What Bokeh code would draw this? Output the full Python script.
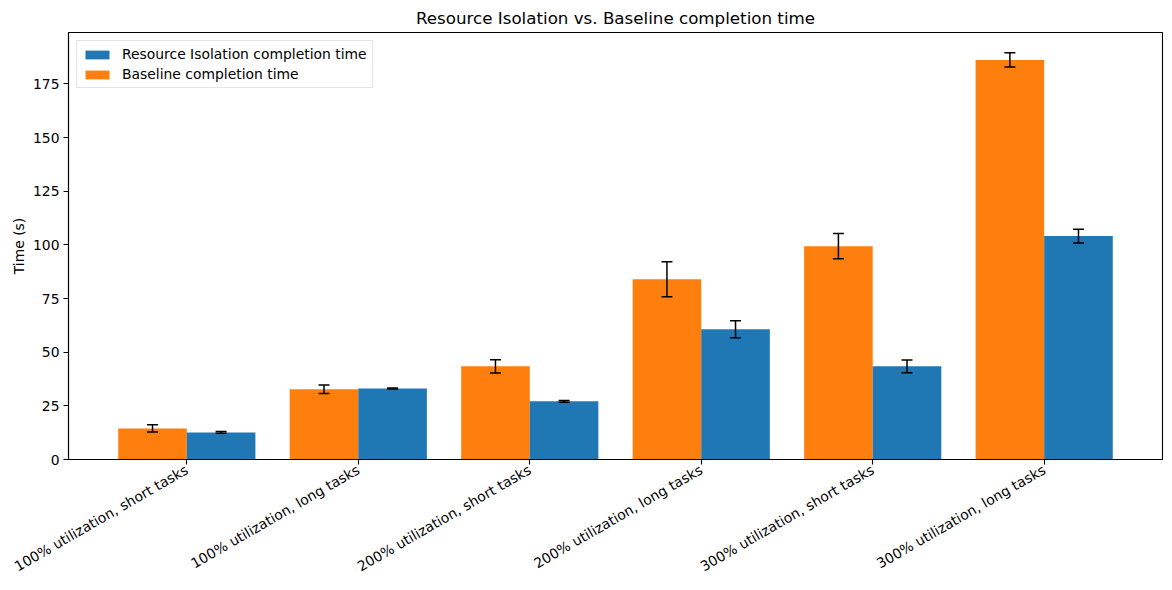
import math
from bokeh.plotting import figure
from bokeh.models import (ColumnDataSource, Range1d, FixedTicker, Whisker, TeeHead,
                          Legend, LegendItem)
from bokeh.embed import file_html
from bokeh.resources import INLINE

scenarios = [
    "100% utilization, short tasks",
    "100% utilization, long tasks",
    "200% utilization, short tasks",
    "200% utilization, long tasks",
    "300% utilization, short tasks",
    "300% utilization, long tasks",
]
baseline_mean = [14.5, 32.7, 43.4, 84.0, 99.4, 186.2]
baseline_err = [1.7, 2.0, 3.1, 8.2, 5.9, 3.3]
isolation_mean = [12.6, 33.1, 27.1, 60.7, 43.4, 104.1]
isolation_err = [0.4, 0.2, 0.4, 4.0, 3.0, 3.2]

BAR_W = 0.4
BLUE = "#1f77b4"
ORANGE = "#ff7f0e"
FONT = "DejaVu Sans"

idx = list(range(len(scenarios)))
base_src = ColumnDataSource(dict(
    x=[i - BAR_W / 2 for i in idx],
    top=baseline_mean,
    upper=[m + e for m, e in zip(baseline_mean, baseline_err)],
    lower=[m - e for m, e in zip(baseline_mean, baseline_err)],
))
iso_src = ColumnDataSource(dict(
    x=[i + BAR_W / 2 for i in idx],
    top=isolation_mean,
    upper=[m + e for m, e in zip(isolation_mean, isolation_err)],
    lower=[m - e for m, e in zip(isolation_mean, isolation_err)],
))

ymax = max(u for u in base_src.data["upper"] + iso_src.data["upper"]) * 1.05
span = (len(idx) - 1) + 2 * BAR_W
p = figure(
    width=1172, height=590,
    x_range=Range1d(-BAR_W - 0.05 * span, len(idx) - 1 + BAR_W + 0.05 * span),
    y_range=Range1d(0, ymax),
    output_backend="svg", toolbar_location=None,
    title="Resource Isolation vs. Baseline completion time",
    min_border_left=68, min_border_right=10, min_border_top=32, min_border_bottom=131,
)

r_base = p.vbar(x="x", top="top", width=BAR_W, source=base_src,
                fill_color=ORANGE, line_color=None)
r_iso = p.vbar(x="x", top="top", width=BAR_W, source=iso_src,
               fill_color=BLUE, line_color=None)

# error bars drawn on top of the bars
for src in (base_src, iso_src):
    w = Whisker(source=src, base="x", upper="upper", lower="lower", dimension="height",
                line_color="black", line_width=1.5, level="overlay",
                upper_head=TeeHead(size=11, line_color="black", line_width=1.5),
                lower_head=TeeHead(size=11, line_color="black", line_width=1.5))
    p.add_layout(w)

# title
p.title.text_font = FONT
p.title.text_font_size = "16.7px"
p.title.text_font_style = "normal"
p.title.align = "center"
p.title.text_color = "black"

# axes
p.xgrid.visible = False
p.ygrid.visible = False
p.outline_line_color = "black"
p.outline_line_width = 1.1

p.xaxis.ticker = FixedTicker(ticks=idx)
p.xaxis.major_label_overrides = {i: s for i, s in zip(idx, scenarios)}
p.xaxis.major_label_orientation = math.pi / 6
p.yaxis.ticker = FixedTicker(ticks=[0, 25, 50, 75, 100, 125, 150, 175])
p.yaxis.axis_label = "Time (s)"
p.yaxis.axis_label_standoff = 3
p.yaxis.axis_label_text_font_style = "normal"

for ax in (p.xaxis, p.yaxis):
    ax.minor_tick_line_color = None
    ax.major_tick_in = 0
    ax.major_tick_out = 5
    ax.major_tick_line_width = 1.1
    ax.axis_line_width = 1.1
    ax.axis_line_color = "black"
    ax.major_tick_line_color = "black"
    ax.major_label_text_font = FONT
    ax.major_label_text_font_size = "13.9px"
    ax.major_label_text_color = "black"
    ax.axis_label_text_font = FONT
    ax.axis_label_text_font_size = "13.9px"
    ax.axis_label_text_color = "black"
    ax.major_label_standoff = 4

legend = Legend(
    items=[LegendItem(label="Resource Isolation completion time", renderers=[r_iso]),
           LegendItem(label="Baseline completion time", renderers=[r_base])],
    location="top_left", margin=8, padding=5, spacing=4,
    glyph_width=30, glyph_height=11, label_height=15, label_standoff=10,
    label_text_font=FONT, label_text_font_size="13.9px", label_text_color="black",
    border_line_color="#cccccc", border_line_width=1,
    background_fill_color="white", background_fill_alpha=0.8,
)
p.add_layout(legend, "center")

open("out.html", "w").write(file_html(p, INLINE))
